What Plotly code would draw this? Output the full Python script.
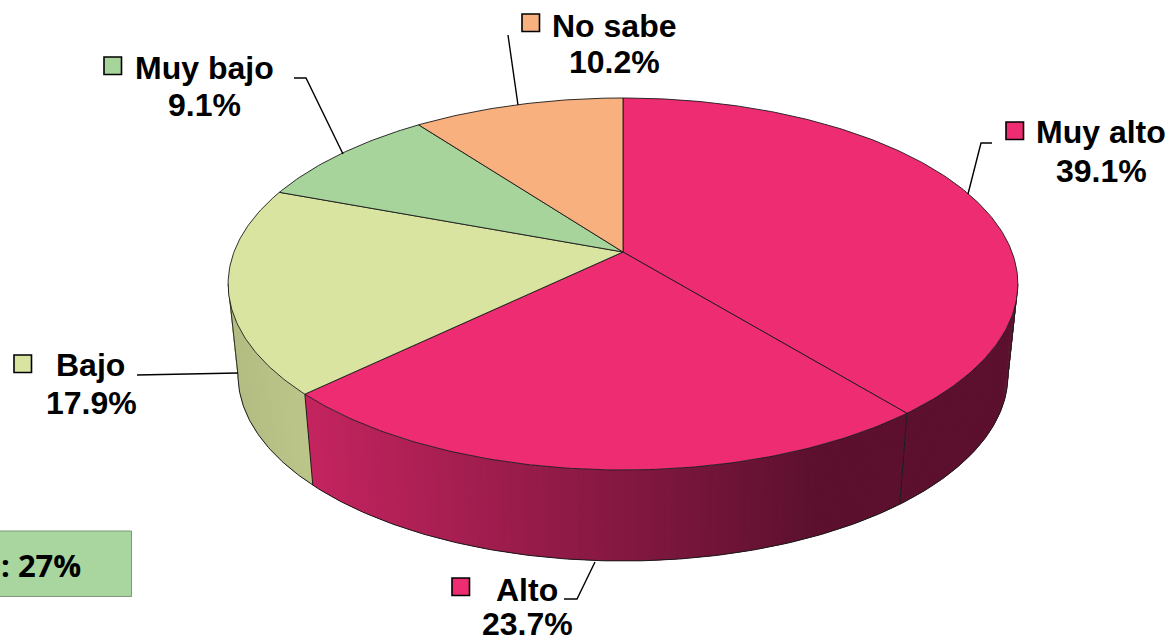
import math
import plotly.graph_objects as go

categories = ["Muy alto", "Alto", "Bajo", "Muy bajo", "No sabe"]
values = [39.1, 23.7, 17.9, 9.1, 10.2]
top_colors = ["#EE2C72", "#EE2C72", "#DAE4A1", "#A6D49B", "#F7B07E"]
wall_left = ["#5C102E", "#C4245F", "#B3BC82", "#88AD7F", "#CA9067"]
wall_right = ["#5C102E", "#5C102E", "#BCC689", "#88AD7F", "#CA9067"]
box_text = ": 27%"

W, H = 1172, 639
CX, CY = 623.0, 252.0
A, B, K = 180.5, 389.0, 0.172
SCALE, DROP = 0.975, 91.0
EDGE = "#1a1a1a"


def top_pt(f):
    a = 2 * math.pi * f
    X, Y = math.sin(a), math.cos(a)
    d = 1 + K * Y
    return CX + B * X / d, CY - A * Y / d


def bot_pt(f):
    x, y = top_pt(f)
    return CX + SCALE * (x - CX), y + DROP


def mix(c1, c2, t):
    t = max(0.0, min(1.0, t))
    p = [int(c1[i:i + 2], 16) for i in (1, 3, 5)]
    q = [int(c2[i:i + 2], 16) for i in (1, 3, 5)]
    return "rgb(%d,%d,%d)" % tuple(round(a + (b - a) * t) for a, b in zip(p, q))


total = sum(values)
bounds = [0.0]
for v in values:
    bounds.append(bounds[-1] + v / total)

fig = go.Figure()


def poly(xs, ys, fill, line=None, width=1.0):
    fig.add_trace(go.Scatter(
        x=xs, y=ys, mode="lines", fill="toself", fillcolor=fill,
        line=dict(color=line or fill, width=width), hoverinfo="skip", showlegend=False))


def stroke(xs, ys, color=EDGE, width=1.0):
    fig.add_trace(go.Scatter(
        x=xs, y=ys, mode="lines", line=dict(color=color, width=width),
        hoverinfo="skip", showlegend=False))


# outer walls: only the near side between the two tangent points of the disc
W0 = math.acos(-K) / (2 * math.pi)
W1 = 1 - W0
for i in range(len(values)):
    f0, f1 = max(bounds[i], W0), min(bounds[i + 1], W1)
    if f1 <= f0:
        continue
    n = max(2, int((f1 - f0) / 0.002))
    for k in range(n):
        a = f0 + (f1 - f0) * k / n
        b = f0 + (f1 - f0) * (k + 1) / n
        # each strip overlaps the next slice so no seam shows through
        b2 = min(f1, b + 0.002)
        xa = top_pt((a + b) / 2)[0]
        if i == 1:
            col = mix(wall_left[i], wall_right[i], (xa - 305) / (820 - 305))
        elif i == 2:
            col = mix(wall_left[i], wall_right[i], (xa - 232) / (305 - 232))
        else:
            col = wall_left[i]
        ta, tb, ba, bb = top_pt(a), top_pt(b2), bot_pt(a), bot_pt(b2)
        poly([ta[0], tb[0], bb[0], ba[0], ta[0]], [ta[1], tb[1], bb[1], ba[1], ta[1]], col, width=0)

# bottom rim, wall dividers and silhouette
rim = [W0 + (W1 - W0) * k / 300 for k in range(301)]
stroke([bot_pt(f)[0] for f in rim], [bot_pt(f)[1] for f in rim])
for f in bounds[1:3]:
    stroke([top_pt(f)[0], bot_pt(f)[0]], [top_pt(f)[1], bot_pt(f)[1]])
for f in (W0, W1):
    stroke([top_pt(f)[0], bot_pt(f)[0]], [top_pt(f)[1], bot_pt(f)[1]], width=0.9)

# top faces
for i in range(len(values)):
    f0, f1 = bounds[i], bounds[i + 1]
    n = max(8, int((f1 - f0) * 500))
    pts = [top_pt(f0 + (f1 - f0) * k / n) for k in range(n + 1)]
    xs = [CX] + [p[0] for p in pts] + [CX]
    ys = [CY] + [p[1] for p in pts] + [CY]
    poly(xs, ys, top_colors[i], line=EDGE, width=0.9)

# leader lines
leaders = [
    ([968, 981, 992], [194, 143, 143]),
    ([595, 577, 564], [562, 599, 599]),
    ([238, 137], [373, 375]),
    ([343, 306, 294], [154, 78, 78]),
    ([518, 508], [105, 35]),
]
for xs, ys in leaders:
    stroke(xs, ys, color="#000000", width=1.4)

name_pos = [(1101, 132), (527, 590), (90.5, 365), (204, 68), (614, 26)]
pct_pos = [(1101, 171), (527, 624), (91, 403), (204, 105), (614, 62)]
key_pos = [(1006, 122), (452, 578), (14, 355), (104, 57), (522, 14)]
KEY = 17.5

shapes = []
for (kx, ky), c in zip(key_pos, top_colors):
    shapes.append(dict(type="rect", x0=kx, y0=ky, x1=kx + KEY, y1=ky + KEY, fillcolor=c,
                       line=dict(color="#000000", width=1.6), layer="above"))
shapes.append(dict(type="rect", x0=-6, y0=531, x1=131.5, y1=596.5, fillcolor="#A9D59E",
                   line=dict(color="#7F9A7A", width=1), layer="above"))

annotations = []
FONT = dict(family="Liberation Sans", size=32, color="#000000")
for name, v, np_, pp in zip(categories, values, name_pos, pct_pos):
    annotations.append(dict(x=np_[0], y=np_[1], text="<b>%s</b>" % name, showarrow=False,
                            xanchor="center", yanchor="middle", font=FONT))
    annotations.append(dict(x=pp[0], y=pp[1], text="<b>%.1f%%</b>" % v, showarrow=False,
                            xanchor="center", yanchor="middle", font=FONT))
annotations.append(dict(x=83, y=565, text="<b>%s</b>" % box_text, showarrow=False, xanchor="right",
                        yanchor="middle", font=dict(family="Open Sans", size=31, color="#000000")))

fig.update_layout(
    width=W, height=H, margin=dict(l=0, r=0, t=0, b=0),
    paper_bgcolor="white", plot_bgcolor="white", showlegend=False,
    xaxis=dict(range=[0, W], visible=False, fixedrange=True),
    yaxis=dict(range=[H, 0], visible=False, fixedrange=True),
    shapes=shapes, annotations=annotations,
)
fig.write_html("out.html", post_script="document.body.style.margin='0';",
               config=dict(displayModeBar=False))
